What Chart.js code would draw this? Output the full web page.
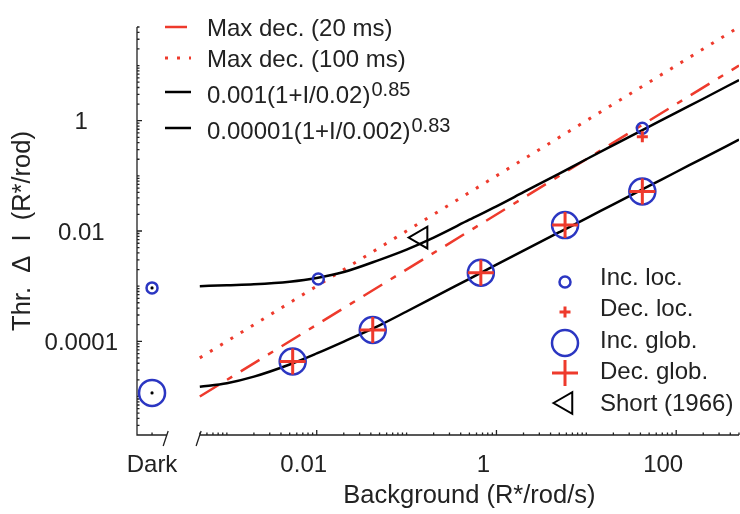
<!DOCTYPE html>
<html>
<head>
<meta charset="utf-8">
<script src="https://cdn.jsdelivr.net/npm/chart.js@4/dist/chart.umd.min.js"></script>
<style>
  html, body { margin: 0; padding: 0; background: #fff; }
  #wrap { width: 740px; height: 514px; position: relative; }
</style>
</head>
<body>
<div id="wrap"><canvas id="thresholdChart"></canvas></div>
<script>
// x value where the dark-adapted points sit, left of the axis break
const darkX = 1.47e-4;
const axisBreak = [2.15e-4, 5e-4];

const xTickValues = [0.01, 1, 100];
const xTickText = ['0.01', '1', '100'];
const yTickValues = [0.0001, 0.01, 1];
const yTickText = ['0.0001', '0.01', '1'];

// fitted curves
const fitX = [5e-4, 1e-3, 2e-3, 5e-3, 0.01, 0.02, 0.05, 0.1, 0.2, 0.5, 1, 2, 5, 10, 20, 50, 100, 200, 500];
const fitHighY = [1.0e-3, 1.04e-3, 1.08e-3, 1.2e-3, 1.4e-3, 1.8e-3, 3.0e-3, 4.6e-3, 7.6e-3, 0.016, 0.028, 0.0505, 0.11, 0.20, 0.36, 0.78, 1.4, 2.5, 5.47];
const fitLowY = [1.5e-5, 1.74e-5, 2.29e-5, 3.8e-5, 6.03e-5, 9.9e-5, 1.95e-4, 3.47e-4, 6.24e-4, 1.36e-3, 2.45e-3, 4.4e-3, 9.5e-3, 0.017, 0.0304, 0.0656, 0.1175, 0.21, 0.454];

const maxDecX = [5e-4, 500];
const maxDec20Y = [1e-5, 10];
const maxDec100Y = [5e-5, 50];

// measured thresholds
const incLocX = [darkX, 0.0104, 42];
const incLocY = [9.3e-4, 1.35e-3, 0.73];
const decLocX = [42];
const decLocY = [0.51];
const incGlobX = [darkX, 0.0054, 0.042, 0.67, 5.8, 42];
const incGlobY = [1.16e-5, 4.3e-5, 1.6e-4, 1.75e-3, 0.0128, 0.052];
const decGlobX = [0.0054, 0.042, 0.67, 5.8, 42];
const decGlobY = [4.3e-5, 1.6e-4, 1.75e-3, 0.0128, 0.052];
const darkDotX = [darkX, darkX];
const darkDotY = [9.3e-4, 1.16e-5];
const shortX = [0.145];
const shortY = [7.6e-3];

const RED = '#ee3a2c';
const BLUE = '#2b36c2';
const INK = '#222222';
const FONT = "'Liberation Sans', Arial, Helvetica, sans-serif";

Chart.defaults.font.family = FONT;

function toPoints(xs, ys) {
    return xs.map((x, i) => ({ x: x, y: ys[i] }));
}

function isNear(v, t) {
    return Math.abs(Math.log10(v) - Math.log10(t)) < 1e-6;
}

function pickLabel(values, texts, v) {
    const i = values.findIndex(t => isNear(v, t));
    return i < 0 ? '' : texts[i];
}

// 1..9 x 10^n ticks inside the scale range
function decadeTicks(scale, fromExp, toExp) {
    const ticks = [];
    for (let e = fromExp; e <= toExp; e++) {
        for (let k = 1; k <= 9; k++) {
            const v = k * Math.pow(10, e);
            if (v >= scale.min * 0.999 && v <= scale.max * 1.001) ticks.push({ value: v });
        }
    }
    scale.ticks = ticks;
}

// keep the plot area fixed, labels may overhang
function fixScale(scale, size) {
    if (scale.isHorizontal()) scale.height = size;
    else scale.width = size;
    scale.paddingLeft = 0;
    scale.paddingRight = 0;
    scale.paddingTop = 0;
    scale.paddingBottom = 0;
}

function markerSet(label, xs, ys, style, radius, color, width, rotation) {
    return {
        label: label,
        data: toPoints(xs, ys),
        pointStyle: style,
        pointRadius: radius,
        pointHoverRadius: radius,
        pointBorderWidth: width,
        pointBorderColor: color,
        pointBackgroundColor: 'rgba(0,0,0,0)',
        pointRotation: rotation || 0,
        showLine: false
    };
}

function lineSet(label, xs, ys, color, dash, width) {
    return {
        label: label,
        data: toPoints(xs, ys),
        showLine: true,
        borderColor: color,
        borderWidth: width || 2.5,
        borderDash: dash,
        pointRadius: 0,
        pointHoverRadius: 0,
        fill: false,
        cubicInterpolationMode: 'monotone'
    };
}

const datasets = [
    {
        label: '',
        data: toPoints(darkDotX, darkDotY),
        pointStyle: 'circle',
        pointRadius: 1.6,
        pointBorderWidth: 0,
        pointBackgroundColor: '#000',
        showLine: false
    },
    markerSet('Dec. glob.', decGlobX, decGlobY, 'cross', 13, RED, 3),
    markerSet('Dec. loc.', decLocX, decLocY, 'cross', 5.5, RED, 3),
    markerSet('Inc. loc.', incLocX, incLocY, 'circle', 5.5, BLUE, 2.5),
    markerSet('Inc. glob.', incGlobX, incGlobY, 'circle', 13, BLUE, 2.5),
    markerSet('Short (1966)', shortX, shortY, 'triangle', 12.5, '#000', 2, -90),
    lineSet('0.001(1+I/0.02)^0.85', fitX, fitHighY, '#000', []),
    lineSet('0.00001(1+I/0.002)^0.83', fitX, fitLowY, '#000', []),
    lineSet('Max dec. (20 ms)', maxDecX, maxDec20Y, RED, [22, 10, 6, 10]),
    lineSet('Max dec. (100 ms)', maxDecX, maxDec100Y, RED, [3, 9], 3)
];

const lineLegendRows = [
    { label: 'Max dec. (20 ms)', y: 27 },
    { label: 'Max dec. (100 ms)', y: 58 },
    { label: '0.001(1+I/0.02)^0.85', y: 92 },
    { label: '0.00001(1+I/0.002)^0.83', y: 128 }
];
const markerLegendRows = [
    { label: 'Inc. loc.', y: 282, textY: 278 },
    { label: 'Dec. loc.', y: 312, textY: 309 },
    { label: 'Inc. glob.', y: 343, textY: 341 },
    { label: 'Dec. glob.', y: 373, textY: 372 },
    { label: 'Short (1966)', y: 403, textY: 404 }
];

const axesPlugin = {
    id: 'axesPlugin',
    beforeDatasetsDraw(chart) {
        const ctx = chart.ctx;
        const xs = chart.scales.x;
        const ys = chart.scales.y;
        const area = chart.chartArea;
        const y0 = area.bottom;
        const x0 = area.left;
        const b1 = xs.getPixelForValue(axisBreak[0]);
        const b2 = xs.getPixelForValue(axisBreak[1]);

        ctx.save();
        ctx.strokeStyle = INK;
        ctx.lineWidth = 1.3;
        ctx.beginPath();
        ctx.moveTo(x0, area.top);
        ctx.lineTo(x0, y0);
        ctx.lineTo(b1, y0);
        ctx.moveTo(b2, y0);
        ctx.lineTo(area.right, y0);
        [b1, b2].forEach(b => {
            ctx.moveTo(b - 3.7, y0 + 11);
            ctx.lineTo(b + 1.3, y0 - 4);
        });
        xs.ticks.forEach(t => {
            if (t.value < axisBreak[1] * 0.999) return;
            const len = pickLabel(xTickValues, xTickText, t.value) ? 5 : 2.5;
            const px = xs.getPixelForValue(t.value);
            ctx.moveTo(px, y0);
            ctx.lineTo(px, y0 - len);
        });
        const dx = xs.getPixelForValue(darkX);
        ctx.moveTo(dx, y0);
        ctx.lineTo(dx, y0 - 2.5);
        ys.ticks.forEach(t => {
            const len = pickLabel(yTickValues, yTickText, t.value) ? 5 : 2.5;
            const py = ys.getPixelForValue(t.value);
            ctx.moveTo(x0, py);
            ctx.lineTo(x0 + len, py);
        });
        ctx.stroke();
        ctx.restore();
    },
    afterDraw(chart) {
        const ctx = chart.ctx;
        const xs = chart.scales.x;
        const area = chart.chartArea;
        const byLabel = label => chart.data.datasets.find(d => d.label === label);

        ctx.save();
        ctx.fillStyle = INK;

        // Dark label and x axis title
        ctx.font = '24px ' + FONT;
        ctx.textAlign = 'center';
        ctx.textBaseline = 'middle';
        ctx.fillText('Dark', xs.getPixelForValue(darkX), 465);
        ctx.font = '25.5px ' + FONT;
        const titleX = (xs.getPixelForValue(axisBreak[1]) + area.right) / 2;
        ctx.fillText('Background (R*/rod/s)', titleX, 496);

        // legend of the lines, top left
        ctx.textAlign = 'left';
        ctx.textBaseline = 'alphabetic';
        lineLegendRows.forEach(row => {
            const ds = byLabel(row.label);
            ctx.save();
            ctx.strokeStyle = ds.borderColor;
            ctx.lineWidth = ds.borderWidth;
            ctx.setLineDash(ds.borderDash || []);
            ctx.beginPath();
            ctx.moveTo(165, row.y);
            ctx.lineTo(191, row.y);
            ctx.stroke();
            ctx.restore();
            const parts = row.label.split('^');
            const base = parts.length > 1 ? row.y + 11 : row.y + 8.5;
            ctx.font = '24px ' + FONT;
            ctx.fillText(parts[0], 207, base);
            if (parts.length > 1) {
                const w = ctx.measureText(parts[0]).width;
                ctx.font = '20px ' + FONT;
                ctx.fillText(parts[1], 207 + w + 1, base - 7);
            }
        });

        // legend of the markers, bottom right
        ctx.font = '24px ' + FONT;
        ctx.textBaseline = 'middle';
        markerLegendRows.forEach(row => {
            const ds = byLabel(row.label);
            ctx.save();
            ctx.strokeStyle = ds.pointBorderColor;
            ctx.fillStyle = ds.pointBackgroundColor;
            ctx.lineWidth = ds.pointBorderWidth;
            Chart.helpers.drawPoint(ctx, {
                pointStyle: ds.pointStyle,
                radius: ds.pointRadius,
                rotation: ds.pointRotation,
                borderWidth: ds.pointBorderWidth
            }, ds.pointStyle === 'triangle' ? 566 : 565, row.y);
            ctx.restore();
            ctx.fillText(row.label, 600, row.textY);
        });
        ctx.restore();
    }
};

new Chart(document.getElementById('thresholdChart'), {
    type: 'scatter',
    data: { datasets: datasets },
    options: {
        responsive: true,
        maintainAspectRatio: false,
        animation: false,
        layout: { autoPadding: false, padding: { top: 27, right: 1, left: 0, bottom: 0 } },
        plugins: {
            legend: { display: false },
            tooltip: { enabled: false }
        },
        scales: {
            x: {
                type: 'logarithmic',
                position: 'bottom',
                min: 1e-4,
                max: 500,
                afterFit: s => fixScale(s, 79),
                afterBuildTicks: s => decadeTicks(s, -4, 2),
                grid: { drawOnChartArea: false, drawTicks: false },
                border: { display: false },
                ticks: {
                    autoSkip: false,
                    maxRotation: 0,
                    minRotation: 0,
                    padding: 15.6,
                    labelOffset: -13,
                    color: INK,
                    font: { size: 24 },
                    callback: v => pickLabel(xTickValues, xTickText, v)
                }
            },
            y: {
                type: 'logarithmic',
                position: 'left',
                min: 2e-6,
                max: 50,
                afterFit: s => fixScale(s, 137),
                afterBuildTicks: s => decadeTicks(s, -6, 1),
                grid: { drawOnChartArea: false, drawTicks: false },
                border: { display: false },
                ticks: {
                    autoSkip: false,
                    crossAlign: 'center',
                    padding: 19,
                    labelOffset: 2,
                    color: INK,
                    font: { size: 24 },
                    callback: v => pickLabel(yTickValues, yTickText, v)
                },
                title: {
                    display: true,
                    text: 'Thr.  Δ  I  (R*/rod)',
                    color: INK,
                    font: { size: 25.5 },
                    padding: { top: 7.7, bottom: 0 }
                }
            }
        }
    },
    plugins: [axesPlugin]
});
</script>
</body>
</html>
